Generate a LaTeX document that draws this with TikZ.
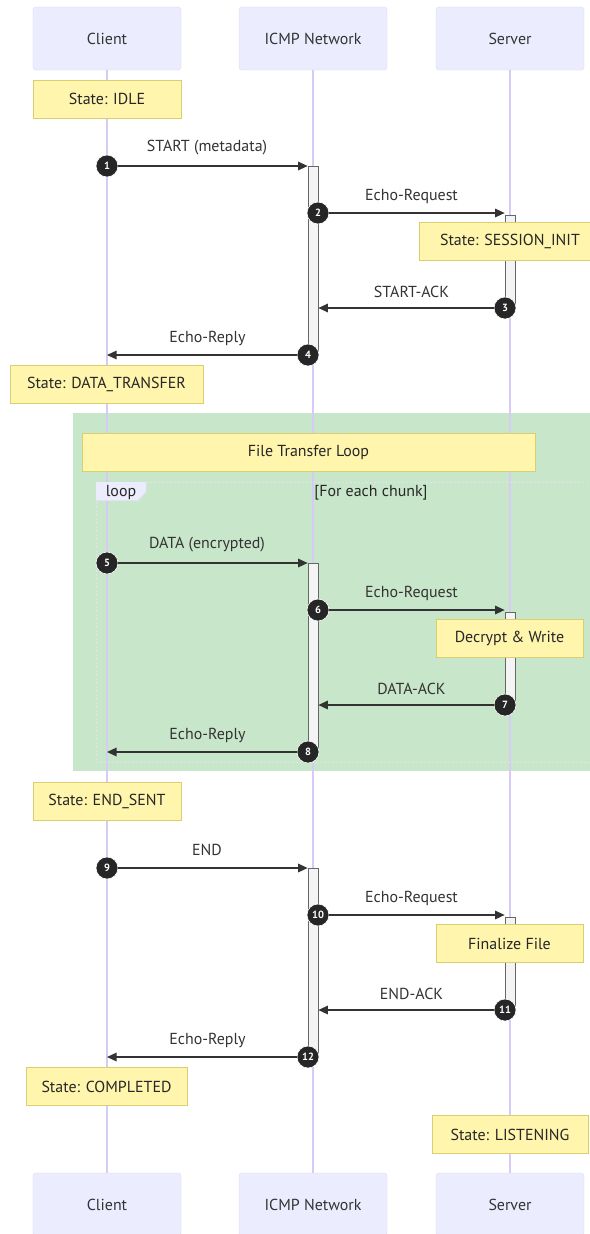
\documentclass[tikz,border=0pt]{standalone}
\usepackage{fontspec}
\setmainfont{PT Sans}
\usetikzlibrary{arrows.meta,calc}
\definecolor{actfill}{HTML}{ECECFF}
\definecolor{actdraw}{HTML}{DCD9F4}
\definecolor{lifeln}{HTML}{D8CAF6}
\definecolor{notefill}{HTML}{FFF5AD}
\definecolor{notedraw}{HTML}{D9CF6E}
\definecolor{loopbg}{HTML}{C8E6C9}
\definecolor{ink}{HTML}{333333}
\definecolor{barfill}{HTML}{F4F4F4}
\definecolor{bardraw}{HTML}{666666}
\definecolor{loopline}{HTML}{E2E2EA}
\begin{document}
\begin{tikzpicture}[x=1bp,y=-1bp,
  actor/.style={draw=actdraw, fill=actfill, rounded corners=3bp, minimum width=148bp, minimum height=63bp, inner sep=0pt, font=\fontsize{16}{18}\selectfont, text=ink},
  note/.style={draw=notedraw, fill=notefill, line width=0.8bp, minimum height=38bp, inner sep=0pt, font=\fontsize{16}{18}\selectfont, text=black!85},
  msgline/.style={draw=ink, line width=1.3bp, -{Triangle[length=9.5bp,width=8.5bp]}},
  seqnum/.style={circle, fill=black!85, draw=white, line width=0.6bp, minimum size=22bp, inner sep=0pt, text=white, font=\fontsize{10.5}{11}\selectfont\bfseries},
  actbar/.style={draw=bardraw, fill=barfill, line width=0.7bp, minimum width=10bp, inner sep=0pt},
  lbl/.style={text=ink, inner sep=0pt, font=\fontsize{16}{18}\selectfont},
  life/.style={draw=lifeln, line width=1.1bp},
  loopframe/.style={draw=loopline, line width=1bp, dash pattern=on 2bp off 2bp}
]
\useasboundingbox (0,0) rectangle (590,1234);
\fill[white] (0,0) rectangle (590,1234);

% loop background
\fill[loopbg] (73,413) rectangle (600,771);

% actors
\node[actor] (ct) at (107,38.5) {Client};
\node[actor] (nt) at (313,38.5) {ICMP Network};
\node[actor] (st) at (510,38.5) {Server};
\node[actor] (cb) at (107,1204.5) {Client};
\node[actor] (nb) at (313,1204.5) {ICMP Network};
\node[actor] (sb) at (510,1204.5) {Server};

% lifelines
\draw[life] (ct.south) -- (cb.north);
\draw[life] (nt.south) -- (nb.north);
\draw[life] (st.south) -- (sb.north);

% loop frame
\draw[loopframe] (600,482) -- (96,482) -- (96,762) -- (600,762);
\fill[actfill] (96,482) -- (146,482) -- (146,492) -- (138,500.5) -- (96,500.5) -- cycle;
\draw[loopline, line width=0.8bp] (146,482) -- (146,492) -- (138,500.5) -- (96,500.5);
\node[lbl, text=black!85] (looplbl) at (121,493) {loop};
\node[lbl, text=black!85] (loopcond) at (371,493) {[For each chunk]};

% activation bars
\node[actbar, minimum height=189bp] (a1) at (313,260.5) {};
\node[actbar, minimum height=93bp] (s1) at (510,261.5) {};
\node[actbar, minimum height=189bp] (a2) at (313,657.5) {};
\node[actbar, minimum height=93bp] (s2) at (510,658.5) {};
\node[actbar, minimum height=189bp] (a3) at (313,962.5) {};
\node[actbar, minimum height=93bp] (s3) at (510,963.5) {};

% notes
\node[note, minimum width=148bp] (idle) at (107,99) {State: IDLE};
\node[note, minimum width=182bp] (sinit) at (510,241.5) {State: SESSION\_INIT};
\node[note, minimum width=193bp] (dtr) at (106.5,384) {State: DATA\_TRANSFER};
\node[note, minimum width=453bp] (ftl) at (308.5,452) {File Transfer Loop};
\node[note, minimum width=147bp] (dw) at (509.5,638.5) {Decrypt \& Write};
\node[note, minimum width=148bp] (ends) at (107,801) {State: END\_SENT};
\node[note, minimum width=147bp] (fin) at (509.5,943.5) {Finalize File};
\node[note, minimum width=161bp] (comp) at (106.5,1086.5) {State: COMPLETED};
\node[note, minimum width=156bp] (lst) at (510,1134.5) {State: LISTENING};

% sequence numbers
\node[seqnum] (n1) at (107,166) {1};
\node[seqnum] (n2) at (318,213) {2};
\node[seqnum] (n3) at (505,308) {3};
\node[seqnum] (n4) at (308,355) {4};
\node[seqnum] (n5) at (107,563) {5};
\node[seqnum] (n6) at (318,610) {6};
\node[seqnum] (n7) at (505,705) {7};
\node[seqnum] (n8) at (308,752) {8};
\node[seqnum] (n9) at (107,868) {9};
\node[seqnum] (n10) at (318,915) {10};
\node[seqnum] (n11) at (505,1010) {11};
\node[seqnum] (n12) at (308,1057) {12};

% messages
\draw[msgline] (n1) -- (n1 -| a1.west);
\draw[msgline] (n2) -- (n2 -| s1.west);
\draw[msgline] (n3) -- (n3 -| a1.east);
\draw[msgline] (n4) -- (n4 -| ct);
\draw[msgline] (n5) -- (n5 -| a2.west);
\draw[msgline] (n6) -- (n6 -| s2.west);
\draw[msgline] (n7) -- (n7 -| a2.east);
\draw[msgline] (n8) -- (n8 -| ct);
\draw[msgline] (n9) -- (n9 -| a3.west);
\draw[msgline] (n10) -- (n10 -| s3.west);
\draw[msgline] (n11) -- (n11 -| a3.east);
\draw[msgline] (n12) -- (n12 -| ct);

% message labels
\node[lbl] (m1) at (207,148) {START (metadata)};
\node[lbl] (m2) at (411.5,196) {Echo-Request};
\node[lbl] (m3) at (411.5,291.5) {START-ACK};
\node[lbl] (m4) at (207.5,338) {Echo-Reply};
\node[lbl] (m5) at (207,545) {DATA (encrypted)};
\node[lbl] (m6) at (411.5,593) {Echo-Request};
\node[lbl] (m7) at (411.5,688.5) {DATA-ACK};
\node[lbl] (m8) at (207.5,735) {Echo-Reply};
\node[lbl] (m9) at (207,850) {END};
\node[lbl] (m10) at (411.5,898) {Echo-Request};
\node[lbl] (m11) at (411.5,993.5) {END-ACK};
\node[lbl] (m12) at (207.5,1040) {Echo-Reply};
\end{tikzpicture}
\end{document}
